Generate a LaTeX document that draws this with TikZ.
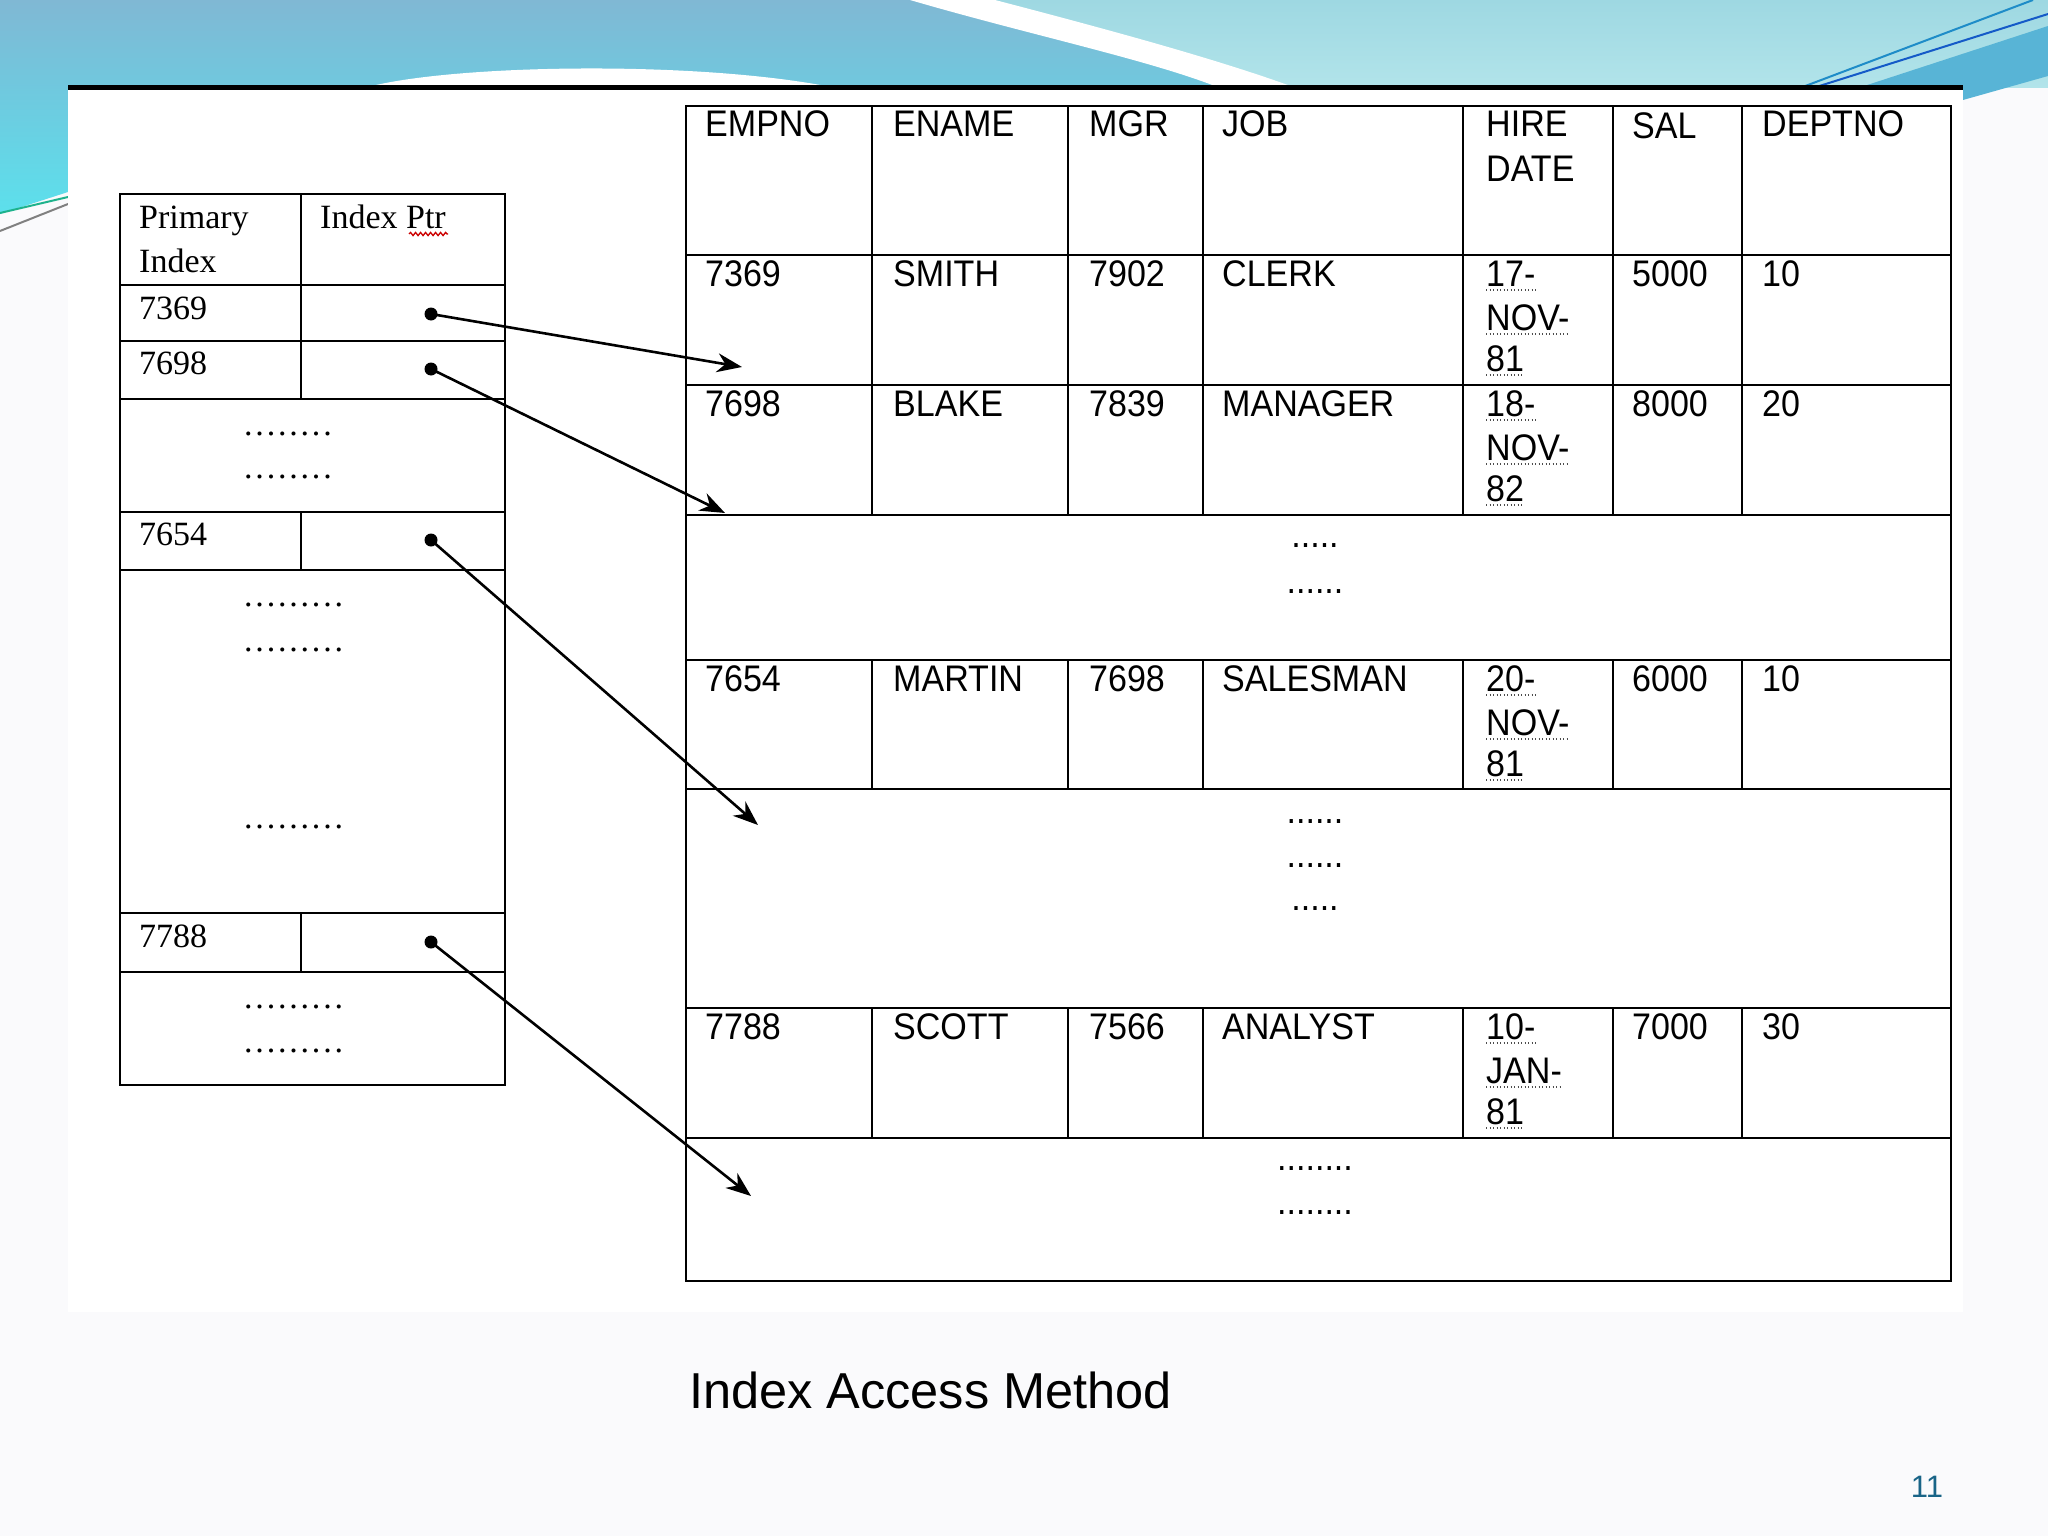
\documentclass[tikz,border=0pt]{standalone}
\usepackage{fontspec}
\setmainfont{Liberation Serif}
\newfontfamily\tabfont[FakeStretch=0.92]{Liberation Sans}
\newfontfamily\capfont{Liberation Sans}
\usetikzlibrary{arrows.meta,decorations.pathmorphing}
\definecolor{slidebg}{RGB}{250,250,252}
\definecolor{bandtop}{RGB}{128,184,212}
\definecolor{bandbot}{RGB}{112,200,222}
\definecolor{lighttop}{RGB}{158,216,226}
\definecolor{lightbot}{RGB}{178,228,234}
\definecolor{stripbot}{RGB}{92,224,236}
\definecolor{swgreen}{RGB}{30,178,140}
\definecolor{swblue}{RGB}{30,140,200}
\definecolor{swdark}{RGB}{20,90,200}
\definecolor{wedge}{RGB}{88,180,214}
\definecolor{pagenum}{RGB}{25,100,135}
\newcommand\dotx{.\kern2.8pt}
\tikzset{
  grid/.style={line width=2.8pt, line cap=rect},
  tcell/.style={anchor=base west, inner sep=0pt, font=\tabfont\fontsize{37}{44}\selectfont},
  icell/.style={anchor=base west, inner sep=0pt, font=\fontsize{34}{40}\selectfont},
  rdots/.style={anchor=base, inner sep=0pt, font=\tabfont\fontsize{37}{44}\selectfont},
  ldots/.style={anchor=base west, inner sep=0pt, font=\fontsize{34}{40}\selectfont},
  pdot/.style={circle, fill=black, minimum size=13pt, inner sep=0pt},
  ptr/.style={line width=2.6pt, -{Stealth[length=25pt,width=19pt]}},
  dul/.style={line width=1.3pt, dash pattern=on 1.3pt off 2.2pt, black!70},
}
\newcommand\dtext[4]{\node[tcell] (#1) at (#2,#3) {#4};
  \draw[dul] ([yshift=-4pt]#1.base west) -- ([yshift=-4pt]#1.base east);}
\begin{document}
\begin{tikzpicture}[x=1pt,y=-1pt]
\useasboundingbox (0,0) rectangle (2048,1536);
\fill[slidebg] (0,0) rectangle (2048,1536);
% top decorative band
\shade[top color=bandtop, bottom color=bandbot] (0,0) rectangle (2048,88);
\shade[top color=lighttop, bottom color=lightbot] (960,0) .. controls (1080,35) and (1200,60) .. (1260,88) -- (2048,88) -- (2048,0) -- cycle;
\fill[white] (910,0) .. controls (1030,35) and (1150,60) .. (1220,88) -- (1296,88) .. controls (1220,60) and (1110,30) .. (995,0) -- cycle;
\fill[white] (364,88) .. controls (450,64) and (700,60) .. (836,88) -- cycle;
% left strip
\shade[top color=bandbot, bottom color=stripbot] (0,86) -- (68,86) -- (68,192) -- (0,214) -- cycle;
\draw[swgreen, line width=2pt] (0,213) -- (68,197);
\draw[gray, line width=2pt] (0,231) -- (68,204);
% top right lines and wedge
\fill[wedge] (1858,88) -- (2048,26) -- (2048,76) -- (1963,100) -- (1963,88) -- cycle;
\draw[swblue, line width=2pt] (1800,88) -- (2033,0);
\draw[swdark, line width=2pt] (1813,88) -- (2048,14);
% picture area
\fill[white] (68,88) rectangle (1963,1312);
\draw[line width=5pt] (68,88) -- (1963,88);

% ---------- left index table ----------
\draw[grid] (120,194) rectangle (505,1085);
\foreach \yy in {285,341,399,512,570,913,972} \draw[grid] (120,\yy) -- (505,\yy);
\draw[grid] (301,194) -- (301,399);
\draw[grid] (301,512) -- (301,570);
\draw[grid] (301,913) -- (301,972);
\node[icell] (hprim) at (139,228) {Primary};
\node[icell] (hidx) at (139,272) {Index};
\node[icell] (hptr) at (320,228) {Index Ptr};
\draw[red!80!black, line width=1.3pt, decorate, decoration={snake, amplitude=1.6pt, segment length=5pt}] (409,234) -- (448,234);
\node[icell] (i7369) at (139,319) {7369};
\node[icell] (i7698) at (139,374) {7698};
\node[icell] (i7654) at (139,545) {7654};
\node[icell] (i7788) at (139,947) {7788};
\node[ldots] (ld1) at (244,435) {\dotx\dotx\dotx\dotx\dotx\dotx\dotx.};
\node[ldots] (ld2) at (244,478) {\dotx\dotx\dotx\dotx\dotx\dotx\dotx.};
\node[ldots] (ld3) at (244,606) {\dotx\dotx\dotx\dotx\dotx\dotx\dotx\dotx.};
\node[ldots] (ld4) at (244,651) {\dotx\dotx\dotx\dotx\dotx\dotx\dotx\dotx.};
\node[ldots] (ld5) at (244,828) {\dotx\dotx\dotx\dotx\dotx\dotx\dotx\dotx.};
\node[ldots] (ld6) at (244,1008) {\dotx\dotx\dotx\dotx\dotx\dotx\dotx\dotx.};
\node[ldots] (ld7) at (244,1052) {\dotx\dotx\dotx\dotx\dotx\dotx\dotx\dotx.};
\node[pdot] (p1) at (431,314) {};
\node[pdot] (p2) at (431,369) {};
\node[pdot] (p3) at (431,540) {};
\node[pdot] (p4) at (431,942) {};

% ---------- right data table ----------
\draw[grid] (686,106) rectangle (1951,1281);
\foreach \yy in {255,385,515,660,789,1008,1138} \draw[grid] (686,\yy) -- (1951,\yy);
\foreach \xx in {872,1068,1203,1463,1613,1742} {
  \draw[grid] (\xx,106) -- (\xx,515);
  \draw[grid] (\xx,660) -- (\xx,789);
  \draw[grid] (\xx,1008) -- (\xx,1138);
}
% header
\node[tcell] (hempno) at (705,137) {EMPNO};
\node[tcell] (hename) at (893,137) {ENAME};
\node[tcell] (hmgr) at (1089,137) {MGR};
\node[tcell] (hjob) at (1222,137) {JOB};
\node[tcell] (hhire) at (1486,137) {HIRE};
\node[tcell] (hdate) at (1486,181) {DATE};
\node[tcell] (hsal) at (1632,139) {SAL};
\node[tcell] (hdept) at (1762,137) {DEPTNO};
% row 7369
\node[tcell] (a1) at (705,286) {7369};
\node[tcell] (a2) at (893,286) {SMITH};
\node[tcell] (a3) at (1089,286) {7902};
\node[tcell] (a4) at (1222,286) {CLERK};
\dtext{a5}{1486}{286}{17-}
\dtext{a6}{1486}{330}{NOV-}
\dtext{a7}{1486}{371}{81}
\node[tcell] (a8) at (1632,286) {5000};
\node[tcell] (a9) at (1762,286) {10};
% row 7698
\node[tcell] (b1) at (705,416) {7698};
\node[tcell] (b2) at (893,416) {BLAKE};
\node[tcell] (b3) at (1089,416) {7839};
\node[tcell] (b4) at (1222,416) {MANAGER};
\dtext{b5}{1486}{416}{18-}
\dtext{b6}{1486}{460}{NOV-}
\dtext{b7}{1486}{501}{82}
\node[tcell] (b8) at (1632,416) {8000};
\node[tcell] (b9) at (1762,416) {20};
% gap 1
\node[rdots] (g1) at (1315,547) {.....};
\node[rdots] (g2) at (1315,593) {......};
% row 7654
\node[tcell] (c1) at (705,691) {7654};
\node[tcell] (c2) at (893,691) {MARTIN};
\node[tcell] (c3) at (1089,691) {7698};
\node[tcell] (c4) at (1222,691) {SALESMAN};
\dtext{c5}{1486}{691}{20-}
\dtext{c6}{1486}{735}{NOV-}
\dtext{c7}{1486}{776}{81}
\node[tcell] (c8) at (1632,691) {6000};
\node[tcell] (c9) at (1762,691) {10};
% gap 2
\node[rdots] (g3) at (1315,823) {......};
\node[rdots] (g4) at (1315,867) {......};
\node[rdots] (g5) at (1315,910) {.....};
% row 7788
\node[tcell] (d1) at (705,1039) {7788};
\node[tcell] (d2) at (893,1039) {SCOTT};
\node[tcell] (d3) at (1089,1039) {7566};
\node[tcell] (d4) at (1222,1039) {ANALYST};
\dtext{d5}{1486}{1039}{10-}
\dtext{d6}{1486}{1083}{JAN-}
\dtext{d7}{1486}{1124}{81}
\node[tcell] (d8) at (1632,1039) {7000};
\node[tcell] (d9) at (1762,1039) {30};
% gap 3
\node[rdots] (g6) at (1315,1170) {........};
\node[rdots] (g7) at (1315,1214) {........};

% pointer targets and arrows
\coordinate (t1) at (742,367);
\coordinate (t2) at (725,513);
\coordinate (t3) at (758,825);
\coordinate (t4) at (751,1196);
\draw[ptr] (p1.center) -- (t1);
\draw[ptr] (p2.center) -- (t2);
\draw[ptr] (p3.center) -- (t3);
\draw[ptr] (p4.center) -- (t4);

% caption and page number
\node[anchor=base west, inner sep=0pt, font=\capfont\fontsize{50.5}{60}\selectfont] (cap) at (689,1408) {Index Access Method};
\node[anchor=base, inner sep=0pt, text=pagenum, font=\capfont\fontsize{31}{36}\selectfont] (pg) at (1927,1497) {11};
\end{tikzpicture}
\end{document}
